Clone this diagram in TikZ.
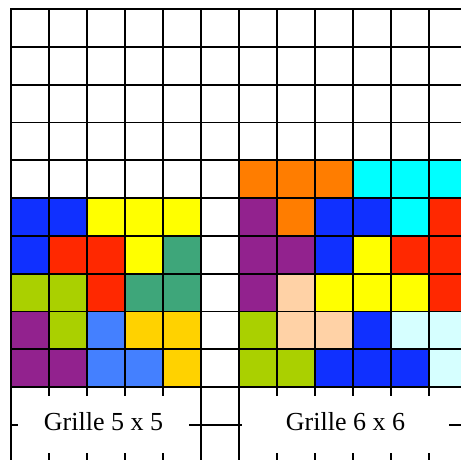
\documentclass[tikz,border=0pt]{standalone}
\usepackage{fontspec}
\setmainfont{Liberation Serif}
\definecolor{cB}{RGB}{16,48,255}
\definecolor{cY}{RGB}{255,255,0}
\definecolor{cR}{RGB}{255,40,0}
\definecolor{cT}{RGB}{62,166,122}
\definecolor{cL}{RGB}{170,208,0}
\definecolor{cP}{RGB}{146,34,142}
\definecolor{cLB}{RGB}{68,128,255}
\definecolor{cG}{RGB}{255,210,0}
\definecolor{cO}{RGB}{255,125,0}
\definecolor{cC}{RGB}{0,255,255}
\definecolor{cPe}{RGB}{255,210,166}
\definecolor{cLC}{RGB}{214,255,255}
\newcommand\rowcells[3]{%
  \foreach \c [count=\k from 0] in {#3} {%
    \fill[\c] ({11+38*(#2+\k)},{9+37.8*#1}) rectangle ++(38,37.8);}}
\begin{document}
\begin{tikzpicture}[x=1pt,y=-1pt,
  gridline/.style={line width=1.8pt,black},
  lbl/.style={fill=white,inner sep=0pt,text height=34pt,text depth=23pt,
    minimum height=57pt,font=\fontsize{26}{26}\selectfont}]
\useasboundingbox (0,0) rectangle (461,459);
\clip (0,0) rectangle (461,459);
\fill[white] (0,0) rectangle (461,459);
% left 5x5
\rowcells{5}{0}{cB,cB,cY,cY,cY}
\rowcells{6}{0}{cB,cR,cR,cY,cT}
\rowcells{7}{0}{cL,cL,cR,cT,cT}
\rowcells{8}{0}{cP,cL,cLB,cG,cG}
\rowcells{9}{0}{cP,cP,cLB,cLB,cG}
% right 6x6
\rowcells{4}{6}{cO,cO,cO,cC,cC,cC}
\rowcells{5}{6}{cP,cO,cB,cB,cC,cR}
\rowcells{6}{6}{cP,cP,cB,cY,cR,cR}
\rowcells{7}{6}{cP,cPe,cY,cY,cY,cR}
\rowcells{8}{6}{cL,cPe,cPe,cB,cLC,cLC}
\rowcells{9}{6}{cL,cL,cB,cB,cB,cLC}
% grid
\foreach \i in {0,...,12} \draw[gridline] ({11+38*\i},8.1) -- ({11+38*\i},470);
\foreach \j in {0,...,11} \draw[gridline] (10.1,{9+37.8*\j}) -- (470,{9+37.8*\j});
% labels
\node[lbl,minimum width=171pt] (g5) at (103.5,424.5) {Grille 5 x 5};
\node[lbl,minimum width=207pt] (g6) at (345.5,424.5) {Grille 6 x 6};
\end{tikzpicture}
\end{document}
